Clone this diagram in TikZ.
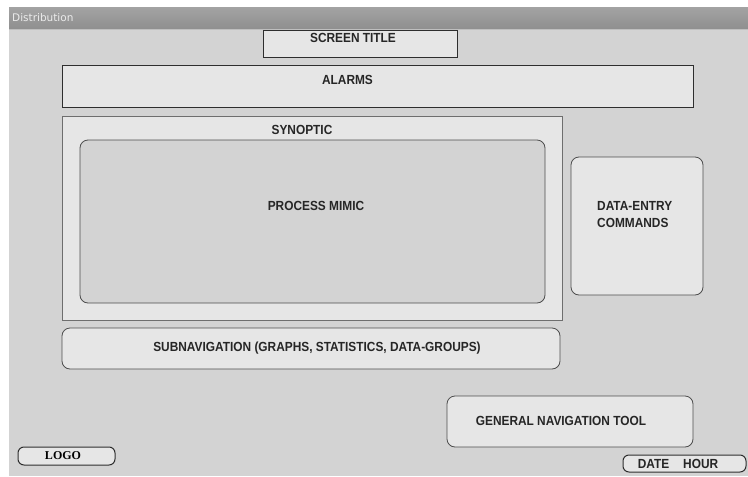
\documentclass[tikz,border=0pt]{standalone}
\usepackage{fontspec}
\newfontfamily\uifont[FakeStretch=0.9]{Liberation Sans}
\newfontfamily\logofont{Liberation Serif}
\newfontfamily\barfont{DejaVu Sans}
\definecolor{bgc}{HTML}{D3D3D3}
\definecolor{panel}{HTML}{E6E6E6}
\definecolor{edge}{HTML}{2E2E2E}
\definecolor{softedge}{HTML}{6E6E6E}
\tikzset{
  x=1pt, y=-1pt,
  box/.style={draw=edge, line width=0.9pt, fill=panel, inner sep=0pt, rectangle},
  rbox/.style={box, line width=0.8pt, draw=edge!85, rounded corners=8pt},
  pill/.style={box, line width=1pt, rounded corners=6pt},
  lbl/.style={font=\uifont\bfseries\fontsize{13.2}{15}\selectfont, text=black!85, inner sep=0pt},
}
\begin{document}
\begin{tikzpicture}
\useasboundingbox (0,0) rectangle (748,477);
\fill[white] (0,0) rectangle (748,477);
\fill[bgc] (9,7) rectangle (748,476);
\shade[top color=black!36, bottom color=black!44] (9,7) rectangle (748,29);
\draw[black!25, line width=0.6pt] (9,29) -- (748,29);
\node[anchor=west, font=\barfont\fontsize{10.5}{12}\selectfont, text=black!8, inner sep=0pt] (bartitle) at (12,18) {Distribution};

% boxes
\node[box, minimum width=194pt, minimum height=27pt] (title) at (360,43.5) {};
\node[box, minimum width=631pt, minimum height=42pt] (alarms) at (377.5,86) {};
\node[box, draw=softedge, line width=1pt, minimum width=500pt, minimum height=204pt] (synoptic) at (312,218) {};
\node[rbox, fill=bgc, minimum width=465pt, minimum height=163pt] (mimic) at (312.5,221.5) {};
\node[rbox, minimum width=132pt, minimum height=138pt] (entry) at (637,226) {};
\node[rbox, minimum width=498pt, minimum height=41pt] (subnav) at (311,348.5) {};
\node[rbox, minimum width=246pt, minimum height=51pt] (gennav) at (570,421.5) {};
\node[pill, minimum width=123pt, minimum height=17pt] (datehour) at (684.5,463.5) {};
\node[pill, minimum width=97pt, minimum height=18pt] (logo) at (66.5,456) {};

% labels
\node[lbl] (titletxt) at (353,38) {SCREEN TITLE};
\node[lbl] (alarmstxt) at (347.5,80) {ALARMS};
\node[lbl] (synoptictxt) at (302,130) {SYNOPTIC};
\node[lbl] (mimictxt) at (316,206) {PROCESS MIMIC};
\node[lbl, anchor=west, align=left, font=\uifont\bfseries\fontsize{13.2}{17}\selectfont] (entrytxt) at (597,214.5) {DATA-ENTRY\\COMMANDS};
\node[lbl] (subnavtxt) at (317,348) {SUBNAVIGATION (GRAPHS, STATISTICS, DATA-GROUPS)};
\node[lbl] (gennavtxt) at (561,421) {GENERAL NAVIGATION TOOL};
\node[lbl] (datehourtxt) at (678,463.5) {DATE\hspace{14pt}HOUR};
\node[font=\logofont\bfseries\fontsize{12}{14}\selectfont, inner sep=0pt] (logotxt) at (63,455.5) {LOGO};
\end{tikzpicture}
\end{document}
